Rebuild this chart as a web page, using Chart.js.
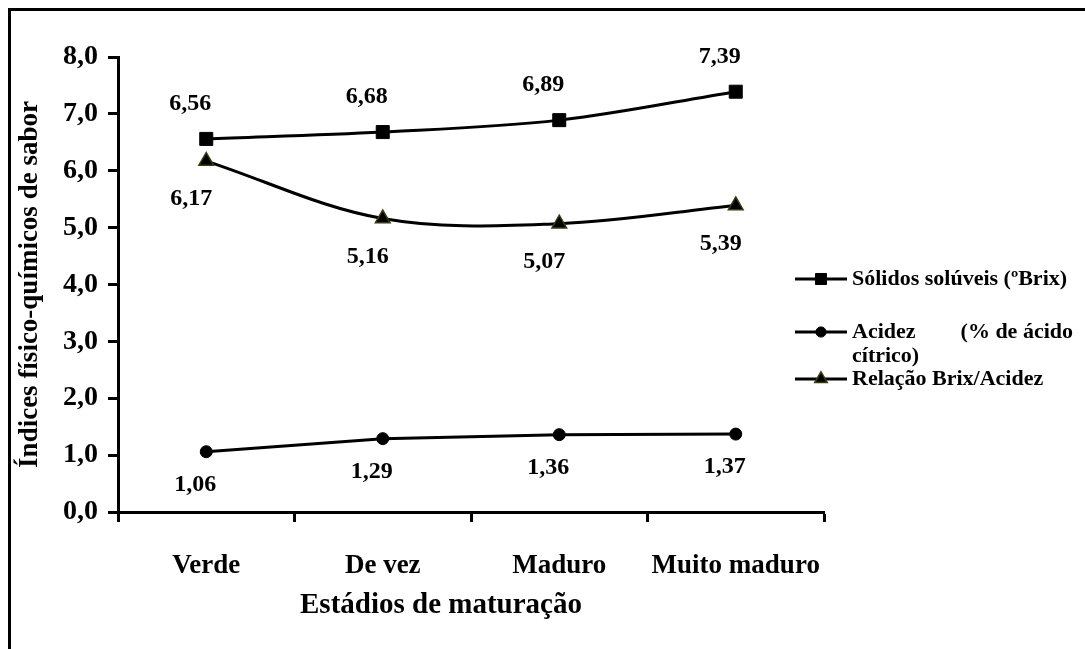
<!DOCTYPE html>
<html lang="pt">
<head>
<meta charset="utf-8">
<title>Índices físico-químicos de sabor</title>
<script src="https://cdn.jsdelivr.net/npm/chart.js@4.4.1/dist/chart.umd.min.js"></script>
<style>
    html, body { margin: 0; padding: 0; background: #fff; overflow: hidden; }
    #wrap { position: relative; width: 1085px; height: 649px; }
    #frame {
        position: absolute; left: 8px; top: 8px; width: 1100px; height: 700px;
        border-top: 3px solid #000; border-left: 3px solid #000; pointer-events: none;
    }
    canvas { position: absolute; left: 0; top: 0; }
</style>
</head>
<body>
<div id="wrap">
    <canvas id="sabor" width="1085" height="649"></canvas>
    <div id="frame"></div>
</div>
<script>
const estadios = ['Verde', 'De vez', 'Maduro', 'Muito maduro'];
const solidosSoluveis = [6.56, 6.68, 6.89, 7.39];
const acidez = [1.06, 1.29, 1.36, 1.37];
const relacaoBrixAcidez = [6.17, 5.16, 5.07, 5.39];
const yTicks = [0, 1, 2, 3, 4, 5, 6, 7, 8];

const SERIF = '"Liberation Serif", "Times New Roman", serif';
const fmt = (v, d) => v.toFixed(d).replace('.', ',');

// value labels next to each point (dx/dy from the point centre)
const valueLabels = {
    id: 'valueLabels',
    afterDatasetsDraw(chart) {
        const ctx = chart.ctx;
        ctx.save();
        ctx.font = 'bold 24px ' + SERIF;
        ctx.fillStyle = '#000';
        ctx.textAlign = 'center';
        ctx.textBaseline = 'middle';
        chart.data.datasets.forEach((ds, i) => {
            chart.getDatasetMeta(i).data.forEach((pt, j) => {
                ctx.fillText(fmt(ds.data[j], 2), pt.x + ds.labelDx, pt.y + ds.labelDy);
            });
        });
        ctx.restore();
    }
};

// axis titles
const axisTitles = {
    id: 'axisTitles',
    afterDraw(chart) {
        const { ctx, chartArea } = chart;
        ctx.save();
        ctx.fillStyle = '#000';
        ctx.textAlign = 'center';
        ctx.textBaseline = 'middle';
        ctx.font = 'bold 29px ' + SERIF;
        ctx.fillText('Estádios de maturação', (chartArea.left + chartArea.right) / 2 - 30, 606);
        ctx.font = 'bold 27px ' + SERIF;
        ctx.translate(30, (chartArea.top + chartArea.bottom) / 2);
        ctx.rotate(-Math.PI / 2);
        ctx.fillText('Índices físico-químicos de sabor', 0, 0);
        ctx.restore();
    }
};

// legend on the right, with the wrapped acidity entry
const sideLegend = {
    id: 'sideLegend',
    afterDraw(chart) {
        const ctx = chart.ctx;
        const x0 = 795, x1 = 847, xt = 852, xr = 1073;
        const rows = [
            { y: 279, lines: [['Sólidos solúveis (ºBrix)']] },
            { y: 332, lines: [['Acidez', '(% de ácido'], ['cítrico)']] },
            { y: 379, lines: [['Relação Brix/Acidez']] }
        ];
        ctx.save();
        ctx.font = 'bold 22px ' + SERIF;
        ctx.fillStyle = '#000';
        ctx.textBaseline = 'middle';
        rows.forEach((row, i) => {
            const ds = chart.data.datasets[i];
            ctx.strokeStyle = '#000';
            ctx.lineWidth = 3;
            ctx.beginPath();
            ctx.moveTo(x0, row.y);
            ctx.lineTo(x1, row.y);
            ctx.stroke();
            ctx.fillStyle = ds.pointBackgroundColor;
            ctx.strokeStyle = ds.pointBorderColor;
            ctx.lineWidth = ds.pointBorderWidth;
            Chart.helpers.drawPoint(ctx, {
                pointStyle: ds.pointStyle,
                radius: ds.pointRadius * 0.85,
                borderWidth: ds.pointBorderWidth
            }, (x0 + x1) / 2, row.y);
            ctx.fillStyle = '#000';
            row.lines.forEach((parts, k) => {
                const y = row.y + k * 24;
                ctx.textAlign = 'left';
                ctx.fillText(parts[0], xt, y);
                if (parts[1]) {
                    ctx.textAlign = 'right';
                    ctx.fillText(parts[1], xr, y);
                }
            });
        });
        ctx.restore();
    }
};

const lineStyle = {
    borderColor: '#000',
    borderWidth: 3,
    pointBorderColor: '#000',
    pointBackgroundColor: '#000',
    pointBorderWidth: 1,
    fill: false
};

new Chart(document.getElementById('sabor'), {
    type: 'line',
    data: {
        labels: estadios,
        datasets: [
            Object.assign({}, lineStyle, {
                label: 'Sólidos solúveis (ºBrix)',
                data: solidosSoluveis,
                pointStyle: 'rect',
                pointRadius: 9.2,
                tension: 0.35,
                labelDx: -16, labelDy: -35
            }),
            Object.assign({}, lineStyle, {
                label: 'Acidez (% de ácido cítrico)',
                data: acidez,
                pointStyle: 'circle',
                pointRadius: 6,
                tension: 0,
                labelDx: -11, labelDy: 33
            }),
            Object.assign({}, lineStyle, {
                label: 'Relação Brix/Acidez',
                data: relacaoBrixAcidez,
                pointStyle: 'triangle',
                pointRadius: 8.5,
                pointBorderColor: '#3b3b0f',
                pointBorderWidth: 1.5,
                tension: 0.35,
                labelDx: -15, labelDy: 38
            })
        ]
    },
    options: {
        responsive: false,
        animation: false,
        devicePixelRatio: 1,
        layout: { padding: { left: 58, top: 57, right: 261, bottom: 0 } },
        plugins: { legend: { display: false }, tooltip: { enabled: false } },
        scales: {
            x: {
                offset: true,
                grid: {
                    offset: true, drawOnChartArea: false, drawTicks: true,
                    tickLength: 10, tickWidth: 3, tickColor: '#000'
                },
                border: { display: true, color: '#000', width: 3 },
                ticks: {
                    color: '#000', padding: 28, maxRotation: 0,
                    font: { family: SERIF, size: 27, weight: 'bold' }
                },
                afterFit(scale) { scale.height = 137; }
            },
            y: {
                min: yTicks[0],
                max: yTicks[yTicks.length - 1],
                afterBuildTicks(scale) { scale.ticks = yTicks.map(v => ({ value: v })); },
                grid: {
                    drawOnChartArea: false, drawTicks: true,
                    tickLength: 10, tickWidth: 3, tickColor: '#000'
                },
                border: { display: true, color: '#000', width: 3 },
                ticks: {
                    color: '#000', padding: 10,
                    font: { family: SERIF, size: 28, weight: 'bold' },
                    callback: v => fmt(v, 1)
                },
                afterFit(scale) { scale.width = 60; }
            }
        }
    },
    plugins: [valueLabels, axisTitles, sideLegend]
});
</script>
</body>
</html>
